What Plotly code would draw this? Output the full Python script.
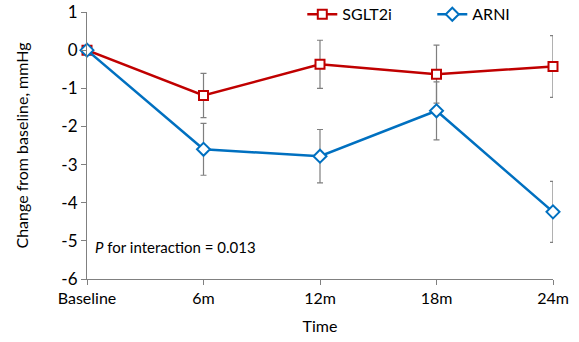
import plotly.graph_objects as go

categories = ["Baseline", "6m", "12m", "18m", "24m"]
sglt2i = [0, -1.19, -0.37, -0.63, -0.43]
sglt2i_err = [0, 0.58, 0.63, 0.76, 0.81]
arni = [0, -2.6, -2.78, -1.59, -4.24]
arni_err = [0, 0.68, 0.7, 0.76, 0.8]
ytickvals = [1, 0, -1, -2, -3, -4, -5, -6]
yticktext = ["1", "0", "-1", "-2", "-3", "-4", "-5", "-6"]
xpos = list(range(len(categories)))

FONT = "Lato"
fig = go.Figure()
fig.add_trace(go.Scatter(
    x=xpos, y=sglt2i, name="SGLT2i", mode="lines+markers",
    line=dict(color="#C00000", width=2.5),
    marker=dict(symbol="square", size=9, color="white", line=dict(color="#C00000", width=2)),
    error_y=dict(type="data", array=sglt2i_err, color="#7f7f7f", thickness=1.2, width=3),
))
fig.add_trace(go.Scatter(
    x=xpos, y=arni, name="ARNI", mode="lines+markers",
    line=dict(color="#0070C0", width=2.5),
    marker=dict(symbol="diamond", size=10, color="white", line=dict(color="#0070C0", width=2)),
    error_y=dict(type="data", array=arni_err, color="#7f7f7f", thickness=1.2, width=3),
))
fig.add_annotation(x=0.05, y=-5.15, xref="x", yref="y", xanchor="left", yanchor="middle",
                   text="<i>P</i> for interaction = 0.013", showarrow=False,
                   font=dict(family=FONT, size=15, color="black"))
fig.update_layout(
    width=579, height=342, plot_bgcolor="white", paper_bgcolor="white",
    margin=dict(l=87, r=26, t=12, b=63, autoexpand=False),
    font=dict(family=FONT, size=16, color="black"),
    showlegend=True,
    legend=dict(orientation="h", x=0.462, y=1.055, xanchor="left", yanchor="top",
                font=dict(family=FONT, size=16), bgcolor="rgba(0,0,0,0)",
                entrywidth=85, itemwidth=30, tracegroupgap=0),
    xaxis=dict(range=[0, 4], tickvals=xpos, ticktext=categories, showgrid=False,
               zeroline=False, showline=True, linecolor="#808080", linewidth=1.2,
               ticks="outside", ticklen=5, tickcolor="#808080",
               title=dict(text="Time", font=dict(size=16), standoff=14)),
    yaxis=dict(range=[-6, 1], tickvals=ytickvals, ticktext=yticktext, showgrid=False,
               zeroline=False, showline=True,
               linecolor="#808080", linewidth=1.2, ticks="outside", ticklen=5,
               tickcolor="#808080", tickfont=dict(size=17),
               title=dict(text="Change from baseline, mmHg", font=dict(size=16), standoff=28)),
)
fig.update_traces(cliponaxis=False)
fig.write_html("out.html", config={"displayModeBar": False},
               post_script="document.body.style.margin='0';")
